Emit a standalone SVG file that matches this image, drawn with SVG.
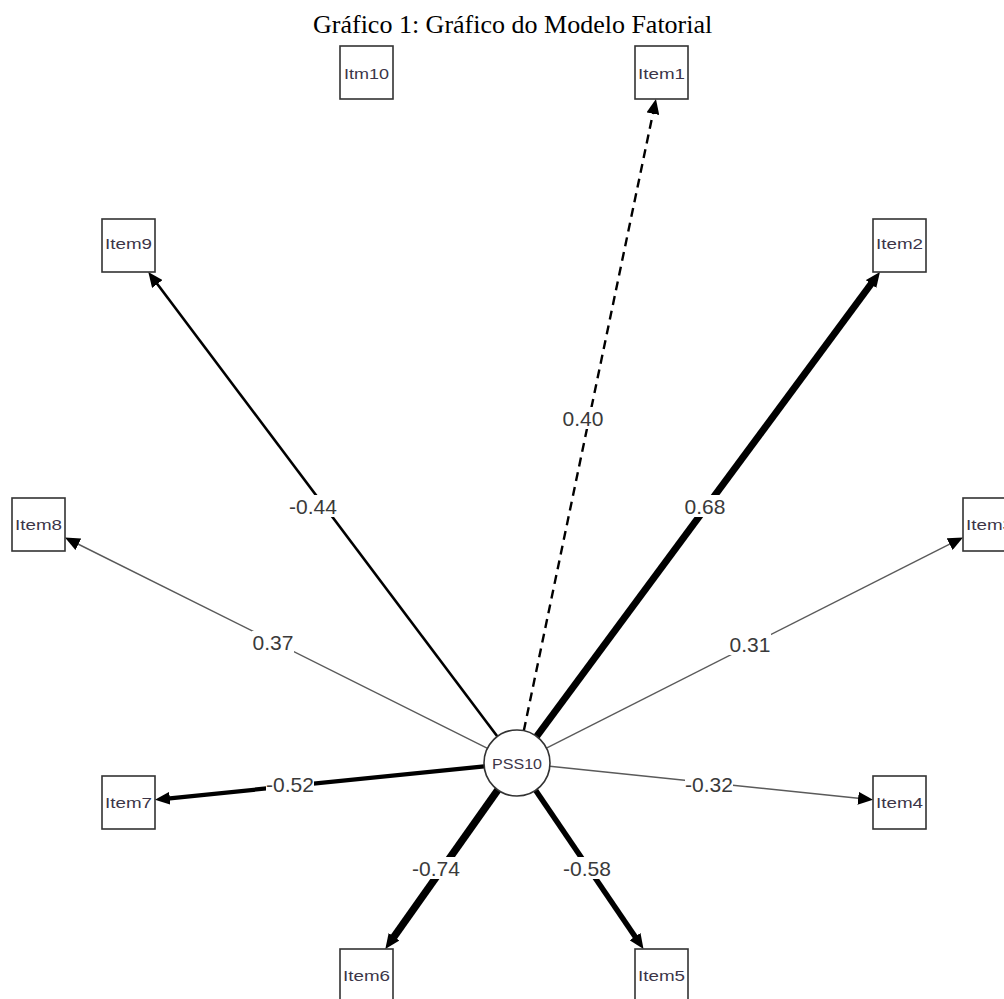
<svg xmlns="http://www.w3.org/2000/svg" width="1004" height="999" viewBox="0 0 1004 999">
<style>
.box{fill:#fff;stroke:#333;stroke-width:1.6}
.ntxt{font-family:"Liberation Sans",Arial,sans-serif;font-size:15px;fill:#3c3548;text-anchor:middle;dominant-baseline:central}
.elab{font-family:"Liberation Sans",Arial,sans-serif;font-size:21px;fill:#3a3a3a;text-anchor:middle;dominant-baseline:central}
.lbg{fill:#fff}
.e{fill:none;stroke:#000;stroke-linecap:butt}
.thin{stroke:#5a5a5a;stroke-width:1.4}
.title{font-family:"Liberation Serif","Times New Roman",serif;font-size:26px;fill:#000}
</style>
<defs>
<marker id="ab" markerUnits="userSpaceOnUse" markerWidth="16" markerHeight="13" refX="5" refY="6.5" orient="auto"><path d="M0,0 L15,6.5 L0,13 z" fill="#000"/></marker>
<marker id="ag" markerUnits="userSpaceOnUse" markerWidth="16" markerHeight="13" refX="5" refY="6.5" orient="auto"><path d="M0,0 L15,6.5 L0,13 z" fill="#000"/></marker>
</defs>
<rect width="1004" height="999" fill="#fff"/>
<text class="title" x="313" y="33">Gráfico 1: Gráfico do Modelo Fatorial</text>

<g id="connectors">
<line class="e" x1="523.8" y1="730.7" x2="653.9" y2="108.8" stroke-width="2.4" stroke-dasharray="9,6" marker-end="url(#ab)"/>
<line class="e" x1="497.4" y1="736.5" x2="154.3" y2="280" stroke-width="2.6" marker-end="url(#ab)"/>
<line class="e" x1="536.6" y1="736.5" x2="874" y2="280" stroke-width="7" marker-end="url(#ab)"/>
<line class="e thin" x1="487.5" y1="748.3" x2="73.9" y2="542" marker-end="url(#ag)"/>
<line class="e thin" x1="546.4" y1="748.1" x2="954.1" y2="541.9" marker-end="url(#ag)"/>
<line class="e" x1="484.2" y1="766.3" x2="164.9" y2="798.8" stroke-width="4.2" marker-end="url(#ab)"/>
<line class="e thin" x1="549.8" y1="766.3" x2="863.1" y2="798.8" marker-end="url(#ag)"/>
<line class="e" x1="497.9" y1="789.9" x2="391.1" y2="940.8" stroke-width="7.5" marker-end="url(#ab)"/>
<line class="e" x1="535.6" y1="790.3" x2="637.9" y2="940.7" stroke-width="5.5" marker-end="url(#ab)"/>

<g id="labels">
<rect class="lbg" x="562" y="407" width="42" height="22"/><text class="elab" x="583" y="418">0.40</text>
<rect class="lbg" x="289" y="495" width="48" height="22"/><text class="elab" x="313" y="506">-0.44</text>
<rect class="lbg" x="684" y="495" width="42" height="22"/><text class="elab" x="705" y="506">0.68</text>
<rect class="lbg" x="252" y="631" width="42" height="22"/><text class="elab" x="273" y="642">0.37</text>
<rect class="lbg" x="729" y="633" width="42" height="22"/><text class="elab" x="750" y="644">0.31</text>
<rect class="lbg" x="266" y="773" width="48" height="22"/><text class="elab" x="290" y="784">-0.52</text>
<rect class="lbg" x="685" y="773" width="48" height="22"/><text class="elab" x="709" y="784">-0.32</text>
<rect class="lbg" x="412" y="857" width="48" height="22"/><text class="elab" x="436" y="868">-0.74</text>
<rect class="lbg" x="563" y="857" width="48" height="22"/><text class="elab" x="587" y="868">-0.58</text>
</g>
</g>

<g id="PSS10"><circle cx="517" cy="763" r="33" fill="#fff" stroke="#333" stroke-width="1.6"/><text class="ntxt" x="517" y="763" fill="#4a4a4a" textLength="50" lengthAdjust="spacingAndGlyphs">PSS10</text></g>
<g id="Itm10"><rect class="box" x="340" y="46" width="53" height="53"/><text class="ntxt" x="366.5" y="73" textLength="45" lengthAdjust="spacingAndGlyphs">Itm10</text></g>
<g id="Item1"><rect class="box" x="635" y="46" width="53" height="53"/><text class="ntxt" x="661.5" y="73" textLength="47" lengthAdjust="spacingAndGlyphs">Item1</text></g>
<g id="Item9"><rect class="box" x="102" y="219" width="53" height="53"/><text class="ntxt" x="128.5" y="243" textLength="47" lengthAdjust="spacingAndGlyphs">Item9</text></g>
<g id="Item2"><rect class="box" x="873" y="219" width="53" height="53"/><text class="ntxt" x="899.5" y="243" textLength="47" lengthAdjust="spacingAndGlyphs">Item2</text></g>
<g id="Item8"><rect class="box" x="12" y="498" width="53" height="53"/><text class="ntxt" x="38.5" y="524" textLength="47" lengthAdjust="spacingAndGlyphs">Item8</text></g>
<g id="Item3"><rect class="box" x="963" y="498" width="53" height="53"/><text class="ntxt" x="989.5" y="524" textLength="47" lengthAdjust="spacingAndGlyphs">Item3</text></g>
<g id="Item7"><rect class="box" x="102" y="776" width="53" height="53"/><text class="ntxt" x="128.5" y="802" textLength="47" lengthAdjust="spacingAndGlyphs">Item7</text></g>
<g id="Item4"><rect class="box" x="873" y="776" width="53" height="53"/><text class="ntxt" x="899.5" y="802" textLength="47" lengthAdjust="spacingAndGlyphs">Item4</text></g>
<g id="Item6"><rect class="box" x="340" y="949" width="53" height="53"/><text class="ntxt" x="366.5" y="975" textLength="47" lengthAdjust="spacingAndGlyphs">Item6</text></g>
<g id="Item5"><rect class="box" x="635" y="949" width="53" height="53"/><text class="ntxt" x="661.5" y="975" textLength="47" lengthAdjust="spacingAndGlyphs">Item5</text></g>
</svg>
